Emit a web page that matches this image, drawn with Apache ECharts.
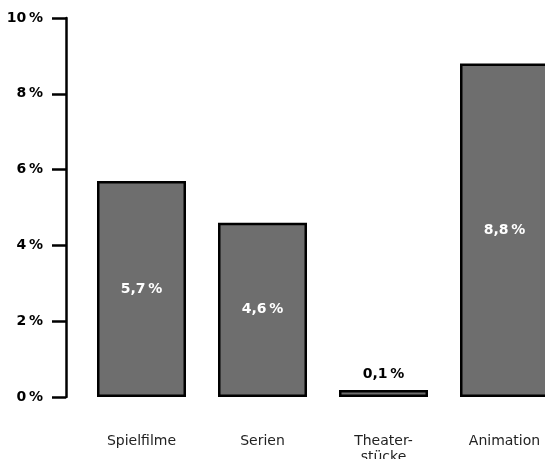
<!DOCTYPE html>
<html>
<head>
<meta charset="utf-8">
<script src="https://cdn.jsdelivr.net/npm/echarts@6/dist/echarts.min.js"></script>
<style>
  html, body { margin: 0; padding: 0; background: #ffffff; }
  #chart { width: 545px; height: 459px; }
</style>
</head>
<body>
<div id="chart"></div>
<script>
// Share per genre, in percent
const categories = ['Spielfilme', 'Serien', 'Theater-\nstücke', 'Animation'];
const values = [5.7, 4.6, 0.1, 8.8];
// Small values get their label above the bar instead of inside
const outsideLabels = [false, false, true, false];
const yTicks = [0, 2, 4, 6, 8, 10];

const FONT = '"DejaVu Sans", "Noto Sans", sans-serif';
const PCT = '\u2009%';
const fmt = v => v.toFixed(1).replace('.', ',') + PCT;

const chart = echarts.init(document.getElementById('chart'), null, { renderer: 'canvas' });

chart.setOption({
  animation: false,
  backgroundColor: '#ffffff',
  textStyle: { fontFamily: FONT },
  grid: { left: 81, top: 18, width: 484, bottom: 62, outerBoundsMode: 'none', containLabel: false },
  xAxis: {
    type: 'category',
    data: categories,
    axisLine: { show: false },
    axisTick: { show: false },
    axisLabel: {
      margin: 36,
      fontSize: 14,
      color: '#222222',
      lineHeight: 16,
      fontFamily: FONT
    }
  },
  yAxis: {
    type: 'value',
    min: 0,
    max: yTicks[yTicks.length - 1],
    interval: 2,
    offset: 15,
    splitLine: { show: false },
    axisLine: { show: true, lineStyle: { color: '#000000', width: 2.5 } },
    axisTick: { show: true, length: 14, lineStyle: { color: '#000000', width: 2.5 } },
    axisLabel: {
      margin: 23,
      fontSize: 14,
      fontWeight: 'bold',
      color: '#000000',
      fontFamily: FONT,
      formatter: v => v + PCT
    }
  },
  series: [{
    type: 'bar',
    barWidth: 89,
    data: values.map((v, i) => ({
      value: v,
      label: outsideLabels[i]
        ? { position: 'top', color: '#000000', distance: 9 }
        : { position: 'inside', color: '#ffffff' }
    })),
    barMinHeight: 7,
    itemStyle: { color: '#6e6e6e', borderColor: '#000000', borderWidth: 2.5 },
    label: {
      show: true,
      fontSize: 14,
      fontWeight: 'bold',
      fontFamily: FONT,
      formatter: p => fmt(p.value)
    }
  }]
});
</script>
</body>
</html>
